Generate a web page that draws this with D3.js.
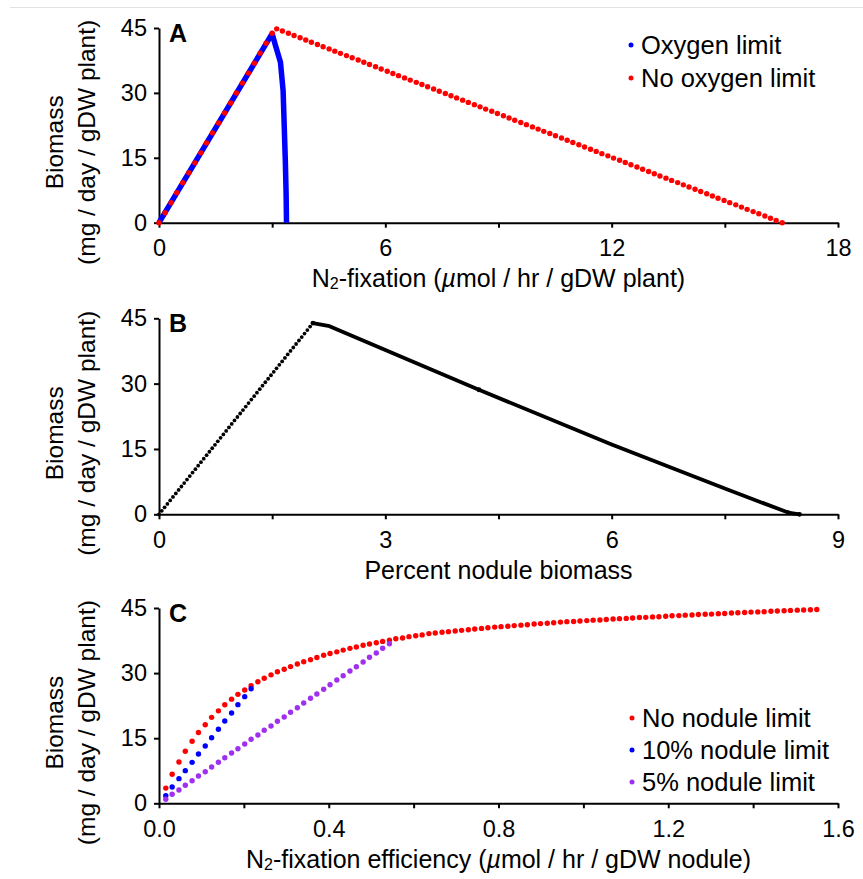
<!DOCTYPE html>
<html>
<head>
<meta charset="utf-8">
<script src="https://cdn.jsdelivr.net/npm/d3@7"></script>
<style>
  body { margin: 0; background: #fff; }
</style>
</head>
<body>
<div id="chart"></div>
<script>
// ---- Panel A: biomass vs N2-fixation ----
const fixationNoO2 = [
  0, 0.16, 0.32, 0.47, 0.63, 0.79, 0.95, 1.11, 1.26, 1.42, 1.58, 1.74, 1.90, 2.05, 2.21, 2.37, 2.53, 2.68, 2.84, 3.00,
  3.12, 3.27, 3.43, 3.58, 3.74, 3.89, 4.04, 4.20, 4.35, 4.51, 4.66, 4.81, 4.97, 5.12, 5.28, 5.43, 5.58, 5.74, 5.89, 6.05,
  6.20, 6.35, 6.51, 6.66, 6.82, 6.97, 7.12, 7.28, 7.43, 7.59, 7.74, 7.89, 8.05, 8.20, 8.36, 8.51, 8.66, 8.82, 8.97, 9.13,
  9.28, 9.43, 9.59, 9.74, 9.90, 10.05, 10.20, 10.36, 10.51, 10.67, 10.82, 10.97, 11.13, 11.28, 11.44, 11.59, 11.74, 11.90,
  12.05, 12.21, 12.36, 12.51, 12.67, 12.82, 12.98, 13.13, 13.28, 13.44, 13.59, 13.75, 13.90, 14.05, 14.21, 14.36, 14.52,
  14.67, 14.82, 14.98, 15.13, 15.29, 15.44, 15.59, 15.75, 15.90, 16.06, 16.21, 16.36, 16.52
];
const biomassNoO2 = [
  0, 2.31, 4.61, 6.92, 9.22, 11.53, 13.83, 16.14, 18.44, 20.75, 23.05, 25.36, 27.66, 29.97, 32.27, 34.58, 36.88, 39.19, 41.49, 43.80,
  44.80, 44.29, 43.77, 43.26, 42.74, 42.23, 41.71, 41.20, 40.68, 40.17, 39.65, 39.14, 38.62, 38.11, 37.59, 37.08, 36.56, 36.05, 35.53, 35.02,
  34.50, 33.99, 33.47, 32.96, 32.44, 31.93, 31.41, 30.90, 30.38, 29.87, 29.35, 28.84, 28.32, 27.81, 27.29, 26.78, 26.26, 25.75, 25.23, 24.72,
  24.20, 23.69, 23.17, 22.66, 22.14, 21.63, 21.11, 20.60, 20.08, 19.57, 19.05, 18.54, 18.02, 17.51, 16.99, 16.48, 15.96, 15.45,
  14.93, 14.42, 13.90, 13.39, 12.87, 12.36, 11.84, 11.33, 10.81, 10.30, 9.78, 9.27, 8.75, 8.24, 7.72, 7.21, 6.69,
  6.18, 5.66, 5.15, 4.63, 4.12, 3.60, 3.09, 2.57, 2.06, 1.54, 1.03, 0.51, 0
];
const fixationO2 = [0, 3.00, 3.08, 3.22, 3.29, 3.35, 3.37, 3.38];
const biomassO2  = [0, 43.7, 41.2, 37.1, 30.5, 14.0, 6.5, 0];

// ---- Panel B: biomass vs percent nodule biomass ----
const nodulePctDots = [
  0, 0.037, 0.074, 0.111, 0.148, 0.185, 0.223, 0.260, 0.297, 0.334, 0.371, 0.408, 0.445, 0.482, 0.519, 0.556,
  0.593, 0.631, 0.668, 0.705, 0.742, 0.779, 0.816, 0.853, 0.890, 0.927, 0.964, 1.001, 1.039, 1.076, 1.113, 1.150,
  1.187, 1.224, 1.261, 1.298, 1.335, 1.372, 1.409, 1.447, 1.484, 1.521, 1.558, 1.595, 1.632, 1.669, 1.706, 1.743,
  1.780, 1.817, 1.855, 1.892, 1.929, 1.966, 2.003, 2.040
];
const noduleBiomassDots = [
  0, 0.80, 1.60, 2.39, 3.19, 3.99, 4.79, 5.59, 6.38, 7.18, 7.98, 8.78, 9.58, 10.37, 11.17, 11.97,
  12.77, 13.57, 14.36, 15.16, 15.96, 16.76, 17.56, 18.35, 19.15, 19.95, 20.75, 21.55, 22.34, 23.14, 23.94, 24.74,
  25.54, 26.33, 27.13, 27.93, 28.73, 29.53, 30.32, 31.12, 31.92, 32.72, 33.52, 34.31, 35.11, 35.91, 36.71, 37.51,
  38.30, 39.10, 39.90, 40.70, 41.50, 42.29, 43.09, 43.89
];
const nodulePctLine = [2.04, 2.26, 3.00, 4.24, 6.00, 7.50, 8.34, 8.49];
const noduleBiomassLine = [43.9, 43.2, 37.7, 28.6, 16.0, 5.9, 0.4, 0];
const nodulePctMarks = [2.04, 4.24, 8.34, 8.49];
const noduleBiomassMarks = [43.9, 28.6, 0.4, 0];

// ---- Panel C: biomass vs N2-fixation efficiency ----
const efficiency = [
  0.016, 0.031, 0.047, 0.062, 0.078, 0.093, 0.109, 0.124, 0.140, 0.155,
  0.171, 0.186, 0.202, 0.217, 0.233, 0.248, 0.264, 0.279, 0.295, 0.310,
  0.326, 0.341, 0.357, 0.372, 0.388, 0.403, 0.419, 0.434, 0.450, 0.465,
  0.481, 0.496, 0.512, 0.527, 0.543, 0.558, 0.574, 0.589, 0.605, 0.620,
  0.636, 0.651, 0.667, 0.682, 0.698, 0.713, 0.729, 0.744, 0.760, 0.775,
  0.791, 0.806, 0.822, 0.837, 0.853, 0.868, 0.884, 0.899, 0.915, 0.930,
  0.946, 0.961, 0.977, 0.992, 1.008, 1.023, 1.039, 1.054, 1.070, 1.085,
  1.101, 1.116, 1.132, 1.147, 1.163, 1.178, 1.194, 1.209, 1.225, 1.240,
  1.256, 1.271, 1.287, 1.302, 1.318, 1.333, 1.349, 1.364, 1.380, 1.395,
  1.411, 1.426, 1.442, 1.457, 1.473, 1.488, 1.504, 1.519, 1.535, 1.550
];
const noNoduleLimit = [
  3.5, 6.7, 9.5, 12.0, 14.3, 16.3, 18.1, 19.8, 21.3, 22.7,
  24.0, 25.1, 26.1, 27.1, 28.0, 28.8, 29.6, 30.3, 30.9, 31.5,
  32.1, 32.6, 33.1, 33.6, 34.1, 34.5, 34.9, 35.3, 35.7, 36.0,
  36.4, 36.7, 37.0, 37.3, 37.6, 37.9, 38.1, 38.4, 38.6, 38.8,
  39.1, 39.25, 39.4, 39.55, 39.7, 39.85, 40.0, 40.15, 40.3, 40.45,
  40.6, 40.7, 40.8, 40.95, 41.05, 41.15, 41.3, 41.4, 41.5, 41.6,
  41.75, 41.85, 41.9, 42.0, 42.1, 42.2, 42.25, 42.35, 42.45, 42.55,
  42.6, 42.7, 42.8, 42.85, 42.95, 43.0, 43.1, 43.2, 43.25, 43.35,
  43.4, 43.5, 43.55, 43.6, 43.7, 43.75, 43.85, 43.9, 43.95, 44.05,
  44.1, 44.15, 44.25, 44.3, 44.35, 44.45, 44.5, 44.55, 44.6, 44.65
];
const nodule10 = [1.76, 3.76, 5.68, 7.52, 9.44, 11.36, 13.2, 15.12, 17.05, 18.97, 20.8, 22.73, 24.57, 26.4];
const nodule5 = [
  0.92, 2.07, 3.06, 4.15, 5.21, 6.29, 7.28, 8.36, 9.45, 10.51, 11.59, 12.58, 13.66, 14.75, 15.74, 16.82, 17.81, 18.89,
  19.88, 20.97, 22.03, 23.11, 24.19, 25.18, 26.27, 27.33, 28.41, 29.4, 30.48, 31.47, 32.56, 33.64, 34.63, 35.71, 36.77
];

const biomassTicks = [0, 15, 30, 45];
const legendA = ["Oxygen limit", "No oxygen limit"];
const legendC = ["No nodule limit", "10% nodule limit", "5% nodule limit"];

const FONT = '"Liberation Sans", Arial, Helvetica, sans-serif';
const RED = "#ff0000", BLUE = "#0000ff", PURPLE = "#a030f0";

const width = 863, height = 879;
const x0 = 159, x1 = 838;

const svg = d3.select("#chart")
  .append("svg")
  .attr("width", width)
  .attr("height", height)
  .style("font-family", FONT);

svg.append("line")
  .attr("x1", 10).attr("x2", width)
  .attr("y1", 7.5).attr("y2", 7.5)
  .attr("stroke", "#e2e2e2");

const zip = (xs, ys) => ys.map((v, i) => [xs[i], v]);

// axes, letter and titles for one panel
function panel(top, bottom, xMax, xTicks, fmt, letter, titleParts) {
  const x = d3.scaleLinear().domain([0, xMax]).range([x0, x1]);
  const y = d3.scaleLinear().domain([0, 45]).range([bottom, top]);

  const ya = svg.append("g")
    .attr("transform", `translate(${x0},0)`)
    .call(d3.axisLeft(y).tickValues(biomassTicks).tickSize(5).tickPadding(7).tickSizeOuter(0));
  const xa = svg.append("g")
    .attr("transform", `translate(0,${bottom})`)
    .call(d3.axisBottom(x).tickValues(xTicks).tickSize(5).tickPadding(12).tickSizeOuter(0)
      .tickFormat((d, i) => i % 2 === 0 ? fmt(d) : ""));
  [ya, xa].forEach(a => {
    a.select(".domain").attr("stroke-width", 2);
    a.selectAll(".tick line").attr("stroke-width", 2);
    a.selectAll("text").attr("font-size", 23.5).attr("font-family", FONT).attr("fill", "#000");
  });

  svg.append("text")
    .attr("x", 169).attr("y", top + 13.5)
    .attr("font-size", 25).attr("font-weight", "bold")
    .text(letter);

  const yc = (top + bottom) / 2 + 17;
  svg.append("text")
    .attr("transform", `translate(63,${yc}) rotate(-90)`)
    .attr("text-anchor", "middle").attr("font-size", 24.5)
    .text("Biomass");
  svg.append("text")
    .attr("transform", `translate(95,${yc}) rotate(-90)`)
    .attr("text-anchor", "middle").attr("font-size", 24.5)
    .text("(mg / day / gDW plant)");

  const t = svg.append("text")
    .attr("x", (x0 + x1) / 2).attr("y", bottom + 64.5)
    .attr("text-anchor", "middle").attr("font-size", 25);
  titleParts.forEach(p => {
    const s = t.append("tspan").text(p.text);
    if (p.sub) s.attr("font-size", 16).attr("dy", 2);
    if (p.after) s.attr("dy", -2);
    if (p.italic) s.attr("font-style", "italic");
  });
  return {x, y};
}

function dots(sc, pts, r, color) {
  svg.append("g").selectAll("circle")
    .data(pts).enter().append("circle")
    .attr("cx", d => sc.x(d[0]))
    .attr("cy", d => sc.y(d[1]))
    .attr("r", r)
    .attr("fill", color);
}

function legend(items, colors, xDot, yFirst, step) {
  const g = svg.append("g");
  items.forEach((label, i) => {
    g.append("circle").attr("cx", xDot).attr("cy", yFirst + i * step).attr("r", 2.5).attr("fill", colors[i]);
    g.append("text").attr("x", xDot + 10).attr("y", yFirst + i * step)
      .attr("dy", "0.36em").attr("font-size", 25.5).text(label);
  });
}

// Panel A
const a = panel(28, 222.7, 18, [0, 3, 6, 9, 12, 15, 18], d3.format("d"), "A", [
  {text: "N"}, {text: "2", sub: true}, {text: "-fixation (", after: true}, {text: "\u00b5", italic: true},
  {text: "mol / hr / gDW plant)"}
]);
svg.append("path")
  .datum(zip(fixationO2, biomassO2))
  .attr("fill", "none").attr("stroke", BLUE).attr("stroke-width", 5.5)
  .attr("stroke-linejoin", "round")
  .attr("d", d3.line().x(d => a.x(d[0])).y(d => a.y(d[1])));
dots(a, zip(fixationNoO2, biomassNoO2), 2.7, RED);
legend(legendA, [BLUE, RED], 631, 45, 33);

// Panel B
const b = panel(318.3, 514.3, 9, [0, 1.5, 3, 4.5, 6, 7.5, 9], d3.format("d"), "B", [
  {text: "Percent nodule biomass"}
]);
svg.append("path")
  .datum(zip(nodulePctLine, noduleBiomassLine))
  .attr("fill", "none").attr("stroke", "#000").attr("stroke-width", 3.8)
  .attr("stroke-linejoin", "round")
  .attr("d", d3.line().x(d => b.x(d[0])).y(d => b.y(d[1])));
dots(b, zip(nodulePctDots, noduleBiomassDots), 1.9, "#000");
dots(b, zip(nodulePctMarks, noduleBiomassMarks), 2.4, "#000");

// Panel C
const c = panel(608, 803.3, 1.6, [0, 0.2, 0.4, 0.6, 0.8, 1.0, 1.2, 1.4, 1.6], d3.format(".1f"), "C", [
  {text: "N"}, {text: "2", sub: true}, {text: "-fixation efficiency (", after: true}, {text: "\u00b5", italic: true},
  {text: "mol / hr / gDW nodule)"}
]);
dots(c, zip(efficiency, noNoduleLimit), 2.7, RED);
dots(c, zip(efficiency, nodule10), 2.7, BLUE);
dots(c, zip(efficiency, nodule5), 2.7, PURPLE);
legend(legendC, [RED, BLUE, PURPLE], 632, 718, 32);
</script>
</body>
</html>
